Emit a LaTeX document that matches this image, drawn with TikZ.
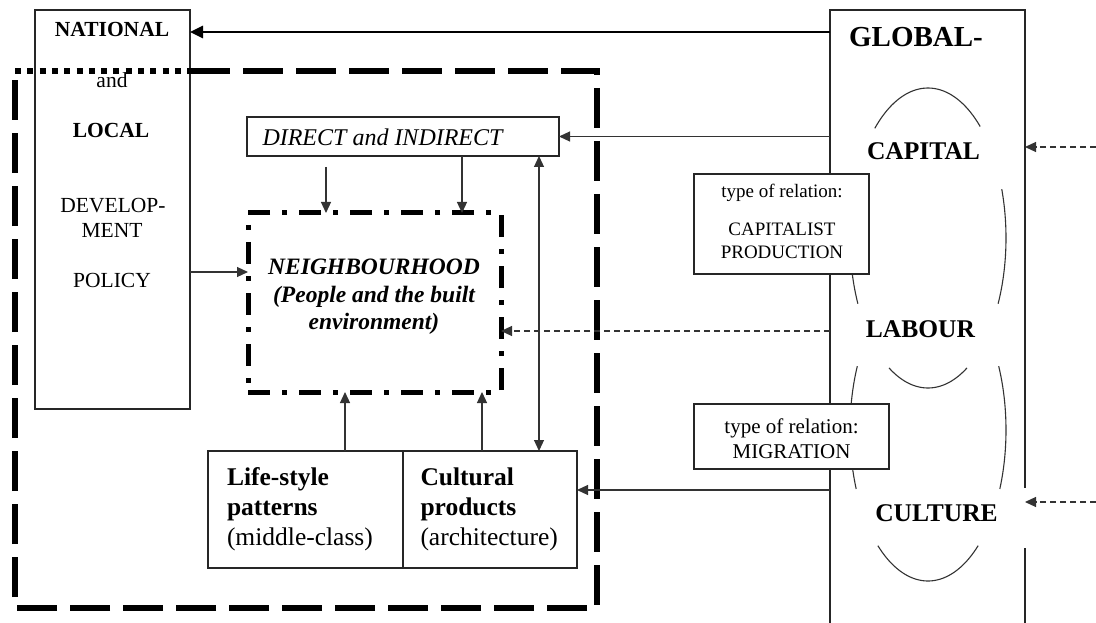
\documentclass[tikz,border=0pt]{standalone}
\usepackage{fontspec}
\setmainfont{Liberation Serif}
\usetikzlibrary{arrows.meta,calc}

\begin{document}
\begin{tikzpicture}[x=1pt,y=-1pt,
  frame/.style={draw=black!85,line width=1.3pt},
  box/.style={frame,fill=white,inner sep=0pt,outer sep=0pt},
  area/.style={inner sep=0pt,outer sep=0pt},
  lbl/.style={inner sep=0pt,anchor=base},
  txt/.style={inner sep=0pt,align=center},
  conn/.style={draw=black!80,line width=1.2pt,-{Triangle[length=11pt,width=10pt]}},
  dconn/.style={conn,dash pattern=on 6pt off 4pt},
  twoway/.style={draw=black!80,line width=1.2pt,{Triangle[length=11pt,width=10pt]}-{Triangle[length=11pt,width=10pt]}},
  heavy/.style={draw=black,line width=2.6pt,-{Triangle[length=13pt,width=12pt]}},
  bigdash/.style={line width=5.5pt,dash pattern=on 40pt off 13pt},
  squaredots/.style={line width=5.5pt,dash pattern=on 6pt off 6.3pt},
  dashdot/.style={draw,line width=5pt,dash pattern=on 22pt off 12pt on 5pt off 12pt},
  ring/.style={draw=black!80,line width=1.1pt},
  fleft/.style={font=\fontsize{21.5}{25}\selectfont},
  fglob/.style={font=\bfseries\fontsize{29}{34}\selectfont},
  fkey/.style={font=\bfseries\fontsize{25.5}{30}\selectfont},
]
\useasboundingbox (0,0) rectangle (1096,623);

% ---- national / local frame and the dashed local area ----
\node[area,minimum width=582pt,minimum height=537pt] (region) at (306,339.5) {};
\node[box,minimum width=155pt,minimum height=399pt] (nat) at (112.5,209.5) {};
\draw[bigdash] (nat.east |- region.north) -- (region.north east) -- (region.south east)
  -- (region.south west) -- (region.north west);
\draw[squaredots] (region.north west) -- (nat.east |- region.north);

\node[lbl,fleft,font=\bfseries\fontsize{21.5}{25}\selectfont] (tNat) at (112,37) {NATIONAL};
\node[lbl,fleft] (tAnd) at (112,88) {and};
\node[lbl,fleft,font=\bfseries\fontsize{21.5}{25}\selectfont] (tLoc) at (111,138) {LOCAL};
\node[lbl,fleft] (tDev) at (113,213) {DEVELOP-};
\node[lbl,fleft] (tMent) at (112,237) {MENT};
\node[lbl,fleft] (tPol) at (112,287) {POLICY};

% ---- global frame ----
\node[area,minimum width=195pt,minimum height=640pt,anchor=north west] (glob) at (830,10) {};
\draw[frame] (glob.south west) -- (glob.north west) -- (glob.north east) -- ($(glob.north east)+(0,478)$);
\draw[frame] ($(glob.north east)+(0,538)$) -- (glob.south east);

% rings linking capital, labour and culture
\draw[ring] plot[domain=48:133,samples=40,smooth] ({928+78*cos(\x)},{238-150*sin(\x)});
\draw[ring] plot[domain=-26:19,samples=40,smooth] ({928+78*cos(\x)},{238-150*sin(\x)});
\draw[ring] plot[domain=161:206,samples=40,smooth] ({928+78*cos(\x)},{238-150*sin(\x)});
\draw[ring] plot[domain=240:300,samples=40,smooth] ({928+78*cos(\x)},{238-150*sin(\x)});
\draw[ring] plot[domain=155:203,samples=40,smooth] ({928+78*cos(\x)},{430-151*sin(\x)});
\draw[ring] plot[domain=-23:25,samples=40,smooth] ({928+78*cos(\x)},{430-151*sin(\x)});
\draw[ring] plot[domain=230:310,samples=40,smooth] ({928+78*cos(\x)},{430-151*sin(\x)});

\node[lbl,fglob] (tGlob) at (916,47) {GLOBAL-};
\node[lbl,fkey] (tCap) at (923.5,160) {CAPITAL};
\node[lbl,fkey] (tLab) at (920.5,337) {LABOUR};
\node[lbl,fkey] (tCul) at (936.5,521) {CULTURE};

% relation boxes
\node[box,minimum width=175pt,minimum height=100pt] (relCap) at (781.5,224) {};
\node[txt,font=\fontsize{19}{23}\selectfont] (relCapT) at (782,221)
  {type of relation:\\[15pt]CAPITALIST\\PRODUCTION};
\node[box,minimum width=195pt,minimum height=65pt] (relMig) at (791.5,436.5) {};
\node[txt,font=\fontsize{21}{25}\selectfont] (relMigT) at (791.5,438.3)
  {type of relation:\\MIGRATION};

% ---- inner boxes ----
\node[box,minimum width=312pt,minimum height=39pt] (dir) at (403,136.5) {};
\node[lbl,font=\itshape\fontsize{24}{28}\selectfont] (dirT) at (382.5,146) {DIRECT and INDIRECT};

\node[dashdot,area,minimum width=253pt,minimum height=179pt] (nb) at (374.5,302.5) {};
\node[txt,font=\bfseries\itshape\fontsize{23.5}{27.5}\selectfont] (nbT) at (374,297)
  {NEIGHBOURHOOD\\(People and the built\\environment)};

\node[box,minimum width=195pt,minimum height=117pt,text width=157pt,inner xsep=19pt,
  align=left,font=\fontsize{25.5}{30}\selectfont] (life) at (305.5,509.5)
  {\textbf{Life-style}\\\textbf{patterns}\\(middle-class)};
\node[box,minimum width=174pt,minimum height=117pt,text width=139pt,inner xsep=17.5pt,
  align=left,font=\fontsize{25.5}{30}\selectfont] (cult) at (490,509.5)
  {\textbf{Cultural}\\\textbf{products}\\(architecture)};

% ---- connectors ----
\draw[heavy] ($(glob.north west)+(0,22)$) -- ($(nat.north east)+(0,22)$);
\draw[conn] (glob.west |- dir.east) -- (dir.east);
\draw[dconn] (glob.west |- {$(nb.north east)+(0,118)$}) -- ($(nb.north east)+(0,118)$);
\draw[conn] (glob.west |- {$(cult.north east)+(0,39)$}) -- ($(cult.north east)+(0,39)$);
\draw[conn] ($(nat.north east)+(0,262)$) -- (nb.west |- {$(nat.north east)+(0,262)$});
\draw[conn] ($(dir.south west)+(79,11)$) -- ($(nb.north west)+(78,0)$);
\draw[conn] ($(dir.south west)+(215,0)$) -- ($(nb.north west)+(214,0)$);
\draw[conn] ($(life.north west)+(137,0)$) -- ($(nb.south west)+(97,0)$);
\draw[conn] ($(cult.north west)+(79,0)$) -- ($(nb.south west)+(234,0)$);
\draw[twoway] ($(dir.south east)+(-20,0)$) -- ($(cult.north west)+(136,0)$);

\coordinate (extCap) at (1096,147);
\coordinate (extCul) at (1096,502);
\draw[dconn] (extCap) -- (glob.east |- extCap);
\draw[dconn] (extCul) -- (glob.east |- extCul);
\end{tikzpicture}
\end{document}
